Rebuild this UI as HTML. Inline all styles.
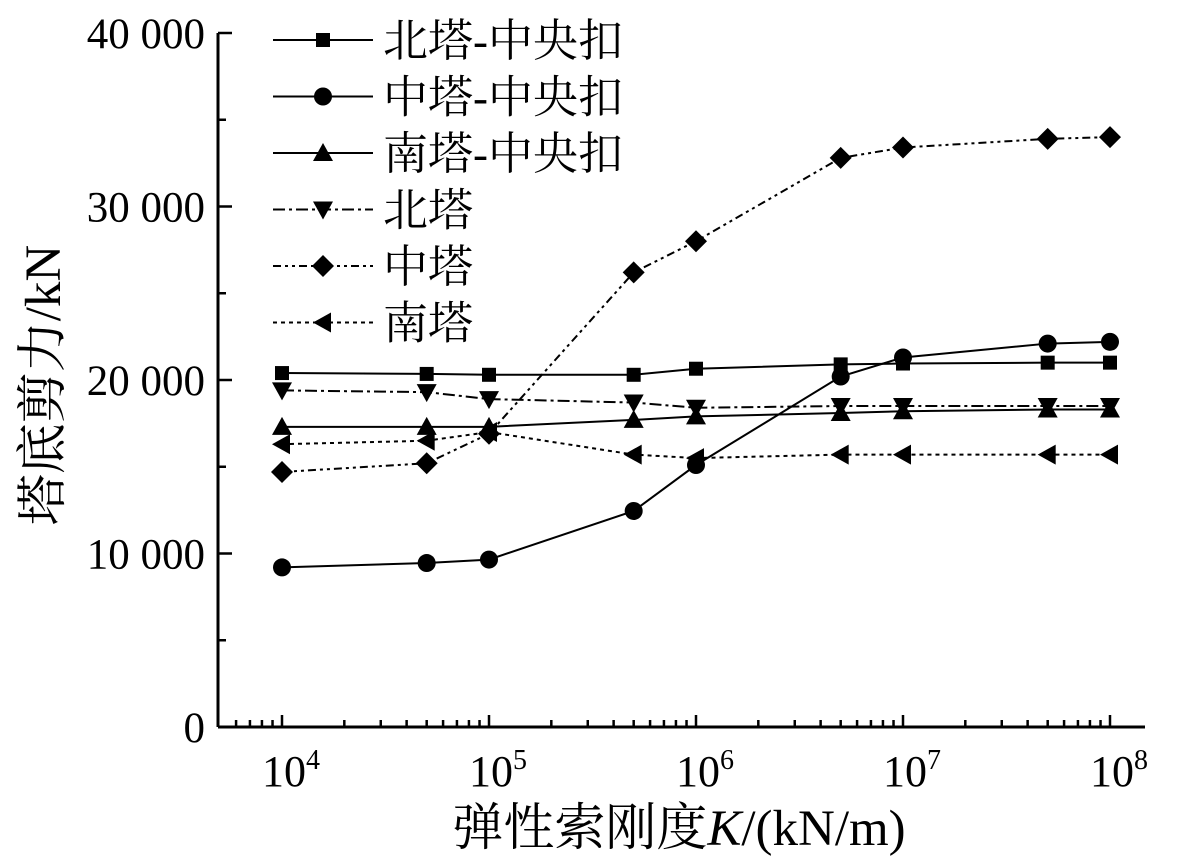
<!DOCTYPE html>
<html><head><meta charset="utf-8"><style>
body{margin:0;background:#fff}
svg{display:block}
text{font-family:"Liberation Serif","Noto Serif CJK SC",serif;fill:#000}
</style></head><body>
<svg id="chart" width="1185" height="864" viewBox="0 0 1185 864" xmlns="http://www.w3.org/2000/svg"></svg>
<script>
const xVals=[1e4,5e4,1e5,5e5,1e6,5e6,1e7,5e7,1e8];
const sNorthC=[20400,20350,20300,20300,20650,20900,20950,21000,21000];
const sMidC=[9200,9450,9650,12450,15100,20200,21300,22100,22200];
const sSouthC=[17300,17300,17300,17700,17900,18100,18200,18300,18300];
const sNorth=[19400,19300,18900,18700,18400,18500,18500,18500,18500];
const sMid=[14700,15200,16900,26200,28000,32800,33400,33900,34000];
const sSouth=[16300,16500,17000,15700,15500,15700,15700,15700,15700];
const seriesNames=["北塔-中央扣","中塔-中央扣","南塔-中央扣","北塔","中塔","南塔"];
const yTicks=[0,10000,20000,30000,40000];
const yTickLabels=["0","10 000","20 000","30 000","40 000"];
const xExps=[4,5,6,7,8];

const NS="http://www.w3.org/2000/svg";
const svg=document.getElementById('chart');
const X0=218,Y0=727,XR=1145;
const xs=v=>282+(Math.log10(v)-4)*207;
const ys=v=>Y0-v*0.01735;
function el(t,a,p){const e=document.createElementNS(NS,t);for(const k in a)e.setAttribute(k,a[k]);(p||svg).appendChild(e);return e;}

const axes=el('g',{});


el('line',{x1:X0,y1:Y0,x2:XR,y2:Y0,stroke:'#000','stroke-width':3},axes);
el('line',{x1:X0,y1:Y0,x2:X0,y2:33,stroke:'#000','stroke-width':3},axes);
for(let v=0;v<=40000;v+=5000){const y=ys(v);const major=v%10000===0;
 el('line',{x1:X0,y1:y,x2:X0+(major?14:8),y2:y,stroke:'#000','stroke-width':2.5},axes);}
yTicks.forEach((v,i)=>{const t=el('text',{x:205,y:ys(v)+15,'text-anchor':'end','font-size':43},axes);t.textContent=yTickLabels[i];
 
 });
for(let e=3;e<=8;e++){for(let m=1;m<10;m++){const v=m*Math.pow(10,e);const x=xs(v);if(x<X0+2||x>XR)continue;
 el('line',{x1:x,y1:Y0,x2:x,y2:Y0-(m===1?12:7),stroke:'#000','stroke-width':2.5},axes);}}
xExps.forEach(e=>{const x=xs(Math.pow(10,e));
 const t=el('text',{x:x+9,y:786,'text-anchor':'middle','font-size':44},axes);
 
 
 t.textContent='10';const s=el('tspan',{dy:-17,'font-size':28},t);s.textContent=e;});
const xt=el('text',{x:679,y:845,'text-anchor':'middle','font-size':51});


xt.innerHTML='弹性索刚度<tspan font-style="italic">K</tspan>/(kN/m)';
const yt=el('text',{x:0,y:0,'text-anchor':'middle','font-size':51,transform:'translate(60,385) rotate(-90)'});


yt.textContent='塔底剪力/kN';

function marker(g,type,x,y){
 if(type==='sq')el('rect',{x:x-7,y:y-7,width:14,height:14},g);
 else if(type==='ci')el('circle',{cx:x,cy:y,r:9},g);
 else if(type==='up')el('polygon',{points:`${x},${y-10} ${x-10},${y+8} ${x+10},${y+8}`},g);
 else if(type==='dn')el('polygon',{points:`${x},${y+10} ${x-10},${y-8} ${x+10},${y-8}`},g);
 else if(type==='di')el('polygon',{points:`${x},${y-11} ${x+11},${y} ${x},${y+11} ${x-11},${y}`},g);
 else if(type==='lt')el('polygon',{points:`${x-10},${y} ${x+8},${y-10} ${x+8},${y+10}`},g);
}
const defs=[[sNorthC,'sq','none','series-north-center'],[sMidC,'ci','none','series-mid-center'],[sSouthC,'up','none','series-south-center'],
[sNorth,'dn','12 4 3 4','series-north'],[sMid,'di','8 4 3 4 3 4','series-mid'],[sSouth,'lt','4 4','series-south']];
defs.forEach((d,i)=>{
 const g=el('g',{fill:'#000'});
 
 
 const pts=xVals.map((v,j)=>xs(v)+','+ys(d[0][j])).join(' ');
 el('polyline',{points:pts,fill:'none',stroke:'#000','stroke-width':2,'stroke-dasharray':d[2]},g);
 xVals.forEach((v,j)=>marker(g,d[1],xs(v),ys(d[0][j])));
 const ly=40+i*56.5;
 const lg=el('g',{fill:'#000'});
 
 
 el('line',{x1:273,y1:ly,x2:373,y2:ly,stroke:'#000','stroke-width':2,'stroke-dasharray':d[2]},lg);
 marker(lg,d[1],323,ly);
 const t=el('text',{x:383,y:ly+16,'font-size':45},lg);t.textContent=seriesNames[i];
});
</script>
</body></html>
